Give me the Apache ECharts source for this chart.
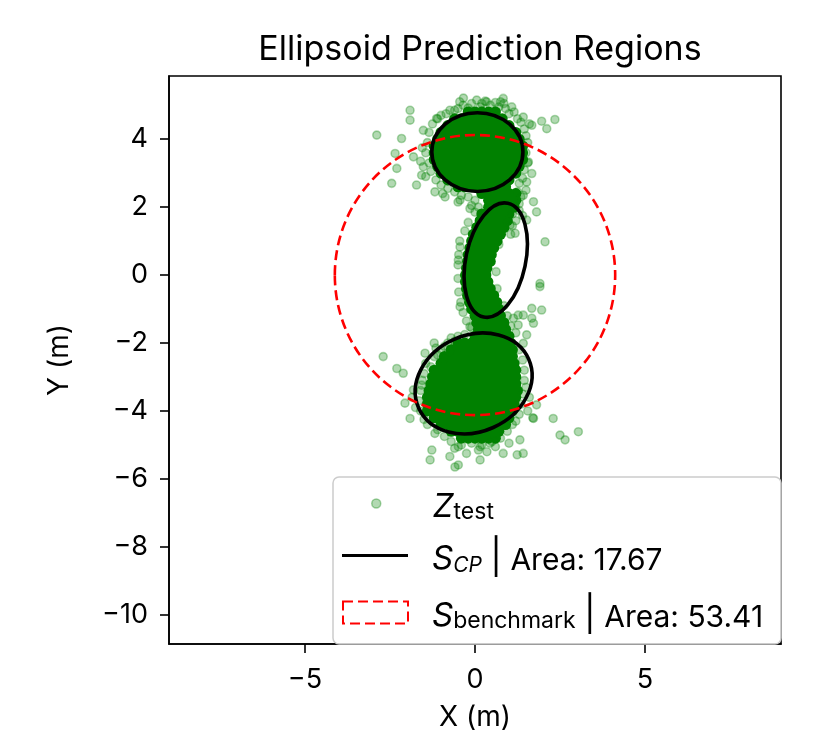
<!DOCTYPE html>
<html><head><meta charset="utf-8">
<script src="https://cdn.jsdelivr.net/npm/echarts@6/dist/echarts.min.js"></script>
<style>html,body{margin:0;padding:0;background:#fff}#c{width:820px;height:750px}</style>
</head><body><div id="c"></div>
<script>
const FONT = 'Inter';
const titleText = 'Ellipsoid Prediction Regions';
const xName = 'X (m)';
const yName = 'Y (m)';
const xRange = [-9, 9];
const yRange = [-10.86, 5.86];
const xTicks = [-5, 0, 5];
const yTicks = [-10, -8, -6, -4, -2, 0, 2, 4];
const areaCP = 17.67;
const areaBench = 53.41;

// black ellipses (S_CP): centre, semi-axes, rotation (deg, counter-clockwise)
const ellCx = [0.07, 0.61, -0.04];
const ellCy = [3.62, 0.44, -3.19];
const ellRx = [1.34, 1.71, 1.77];
const ellRy = [1.16, 0.88, 1.42];
const ellAngle = [0, 78, 24];
// red dashed benchmark circle
const benchCx = 0;
const benchCy = 0;
const benchR = 4.123;

// dense (saturated) core of Z_test, rows: [y, [x values]]
const coreTopRows = [
  [4.8, [-0.2, 0, 0.2, 0.4, 0.6]],
  [4.6, [-0.6, -0.4, -0.2, 0, 0.2, 0.4, 0.6, 0.8]],
  [4.4, [-0.8, -0.6, -0.4, -0.2, 0, 0.2, 0.4, 0.6, 0.8, 1.0]],
  [4.2, [-1.0, -0.8, -0.6, -0.4, -0.2, 0, 0.2, 0.4, 0.6, 0.8, 1.0, 1.2]],
  [4.0, [-1.1, -0.9, -0.7, -0.5, -0.3, -0.1, 0.1, 0.3, 0.5, 0.7, 0.9, 1.1, 1.3]],
  [3.8, [-1.2, -1.0, -0.8, -0.6, -0.4, -0.2, 0, 0.2, 0.4, 0.6, 0.8, 1.0, 1.2, 1.4]],
  [3.6, [-1.2, -1.0, -0.8, -0.6, -0.4, -0.2, 0, 0.2, 0.4, 0.6, 0.8, 1.0, 1.2, 1.4]],
  [3.4, [-1.2, -1.0, -0.8, -0.6, -0.4, -0.2, 0, 0.2, 0.4, 0.6, 0.8, 1.0, 1.2, 1.4]],
  [3.2, [-1.1, -0.9, -0.7, -0.5, -0.3, -0.1, 0.1, 0.3, 0.5, 0.7, 0.9, 1.1, 1.3]],
  [3.0, [-1.0, -0.8, -0.6, -0.4, -0.2, 0, 0.2, 0.4, 0.6, 0.8, 1.0, 1.2]],
  [2.8, [-0.8, -0.6, -0.4, -0.2, 0, 0.2, 0.4, 0.6, 0.8, 1.0]],
  [2.6, [-0.5, -0.3, -0.1, 0.1, 0.3, 0.5, 0.7, 0.9]],
  [2.4, [0.2, 0.4, 0.6, 0.8, 1.0, 1.2]],
  [2.2, [0.4, 0.6, 0.8, 1.0, 1.2]],
  [2.0, [0.4, 0.6, 0.8, 1.0, 1.15]]
];
const coreMidRows = [
  [1.8, [0.2, 0.4, 0.6, 0.8, 1.0]],
  [1.6, [0.15, 0.35, 0.55, 0.75, 0.95]],
  [1.4, [0.05, 0.25, 0.45, 0.65, 0.85]],
  [1.2, [-0.05, 0.15, 0.35, 0.55, 0.75]],
  [1.0, [-0.1, 0.1, 0.3, 0.5, 0.65]],
  [0.8, [-0.15, 0.05, 0.25, 0.45, 0.55]],
  [0.6, [-0.2, 0, 0.2, 0.4, 0.48]],
  [0.4, [-0.22, -0.02, 0.18, 0.38, 0.45]],
  [0.2, [-0.25, -0.05, 0.15, 0.35]],
  [0.0, [-0.28, -0.08, 0.12, 0.32]],
  [-0.2, [-0.28, -0.08, 0.12, 0.32, 0.38]],
  [-0.4, [-0.25, -0.05, 0.15, 0.35, 0.45]],
  [-0.6, [-0.22, -0.02, 0.18, 0.38, 0.55]],
  [-0.8, [-0.16, 0.04, 0.24, 0.44, 0.64]],
  [-1.0, [-0.1, 0.1, 0.3, 0.5, 0.7]],
  [-1.2, [0, 0.2, 0.4, 0.6, 0.75]],
  [-1.4, [0.05, 0.25, 0.45, 0.65, 0.85]],
  [-1.6, [0.1, 0.3, 0.5, 0.7, 0.9]]
];
const coreBotRows = [
  [-1.8, [0, 0.2, 0.4, 0.6, 0.8, 1.0]],
  [-2.0, [-0.5, -0.3, -0.1, 0.1, 0.3, 0.5, 0.7, 0.9, 1.05]],
  [-2.2, [-0.7, -0.5, -0.3, -0.1, 0.1, 0.3, 0.5, 0.7, 0.9, 1.1]],
  [-2.4, [-0.9, -0.7, -0.5, -0.3, -0.1, 0.1, 0.3, 0.5, 0.7, 0.9, 1.1]],
  [-2.6, [-1.0, -0.8, -0.6, -0.4, -0.2, 0, 0.2, 0.4, 0.6, 0.8, 1.0, 1.15]],
  [-2.8, [-1.2, -1.0, -0.8, -0.6, -0.4, -0.2, 0, 0.2, 0.4, 0.6, 0.8, 1.0, 1.2]],
  [-3.0, [-1.25, -1.05, -0.85, -0.65, -0.45, -0.25, -0.05, 0.15, 0.35, 0.55, 0.75, 0.95, 1.15, 1.2]],
  [-3.2, [-1.3, -1.1, -0.9, -0.7, -0.5, -0.3, -0.1, 0.1, 0.3, 0.5, 0.7, 0.9, 1.1, 1.2]],
  [-3.4, [-1.35, -1.15, -0.95, -0.75, -0.55, -0.35, -0.15, 0.05, 0.25, 0.45, 0.65, 0.85, 1.05, 1.25]],
  [-3.6, [-1.4, -1.2, -1.0, -0.8, -0.6, -0.4, -0.2, 0, 0.2, 0.4, 0.6, 0.8, 1.0, 1.2]],
  [-3.8, [-1.4, -1.2, -1.0, -0.8, -0.6, -0.4, -0.2, 0, 0.2, 0.4, 0.6, 0.8, 1.0, 1.15]],
  [-4.0, [-1.4, -1.2, -1.0, -0.8, -0.6, -0.4, -0.2, 0, 0.2, 0.4, 0.6, 0.8, 1.0, 1.1]],
  [-4.2, [-1.2, -1.0, -0.8, -0.6, -0.4, -0.2, 0, 0.2, 0.4, 0.6, 0.8, 1.0]],
  [-4.4, [-1.0, -0.8, -0.6, -0.4, -0.2, 0, 0.2, 0.4, 0.6, 0.8, 0.9]],
  [-4.6, [-0.7, -0.5, -0.3, -0.1, 0.1, 0.3, 0.5, 0.7]],
  [-4.8, [-0.4, -0.2, 0, 0.2, 0.4, 0.6]]
];
// sparse / fringe Z_test points (semi-transparent)
const sparseTop = [
  [-2.89,4.12],[-1.91,4.85],[-1.91,4.56],[-2.16,4.02],[-1.52,4.26],[-2.35,3.58],[-2.45,2.70],[-1.72,2.65],
  [-2.30,3.14],[-1.81,3.48],[-1.52,3.19],[-1.57,2.94],[-0.34,5.21],[0.34,5.10],[0.83,5.20],[1.08,4.95],
  [1.67,4.41],[1.96,4.53],[2.35,4.58],[2.11,4.31],[1.67,2.99],[1.52,2.74],[-0.74,4.85],[-1.13,4.61],
  [-1.18,2.45],[-0.88,2.30],[-0.44,2.21],[-0.15,1.96],[1.72,2.16],[1.42,2.35],[1.57,3.33],
  [-0.6,4.85],[-0.35,5.0],[-0.1,5.05],[0.15,4.95],[0.45,5.0],[0.7,4.95],[0.9,4.9],[1.0,4.75],
  [-0.85,4.75],[-0.5,4.9],[0.3,5.12],[0.6,5.08],[-0.2,4.92],[0.05,5.15],[0.85,5.05],
  [1.35,4.5],[1.45,4.3],[1.5,4.1],[1.55,3.9],[1.5,3.6],[1.55,3.3],[1.45,3.1],[1.4,2.85],[1.3,2.7],
  [1.6,4.45],[1.42,4.65],[1.25,4.6],[-1.35,4.2],[-1.4,3.9],[-1.45,3.6],[-1.35,3.3],[-1.3,3.05],
  [-1.15,2.8],[-1.0,2.65],[-1.25,4.45],[-1.1,4.6],[-1.55,3.75],[-1.6,3.35],[-0.8,2.55],[-0.6,2.45],
  [-0.4,2.35],[-0.2,2.3],[0.0,2.2],[-0.1,2.05],[1.25,2.45],[1.35,2.3],[1.3,2.1],[-0.5,2.15],
  [-0.45,5.1],[0.2,5.05],[0.75,5.1],[1.15,4.8],[-1.0,4.7],[1.5,2.5],[-1.45,2.9],[-0.95,2.4]
];
const sparseMid = [
  [0.1,2.0],[0.0,1.85],[1.3,1.9],[1.4,1.75],[1.2,1.6],[1.1,1.45],[-0.45,1.0],[-0.48,0.6],[-0.5,0.3],
  [-0.5,-0.1],[-0.48,-0.5],[-0.42,-0.8],[-0.35,-1.1],[-0.25,-1.35],[-0.3,1.3],[-0.2,1.55],[0.7,0.9],
  [0.62,0.1],[0.65,-0.4],[0.85,-0.9],[0.95,-1.2],[1.05,1.2],[0.95,1.6],[1.1,1.8],[1.03,1.47],[1.18,1.23],
  [1.52,1.62],[1.81,1.86],[2.06,0.98],[1.91,-0.34],[1.67,-0.98],[1.96,-1.03],[-0.49,0.44],[-0.44,0.83],
  [-0.44,-0.93],[-0.15,-1.52],[1.13,-1.27],[1.42,-1.18],[1.27,-1.47],[1.67,-1.27],[1.91,-0.25]
];
const sparseBot = [
  [-2.70,-2.40],[-2.30,-2.75],[-2.11,-2.89],[-1.47,-2.30],[-1.91,-4.22],[-2.06,-3.77],[-1.18,-4.66],
  [-1.27,-5.15],[-0.74,-5.34],[-0.49,-5.59],[-0.49,-5.05],[0.15,-5.05],[0.44,-4.95],[0.83,-5.25],
  [1.42,-5.25],[1.32,-4.85],[1.72,-4.22],[1.81,-3.82],[2.30,-4.22],[2.50,-4.71],[2.65,-4.85],[3.04,-4.61],
  [1.42,-2.01],[1.52,-1.76],[1.72,-1.42],[1.27,-1.18],[-1.57,-3.24],[-1.81,-3.38],[-1.32,-5.44],
  [-0.59,-5.65],[0.15,-5.44],[1.24,-5.29],
  [-0.1,-1.55],[1.05,-1.5],[1.2,-1.7],[-0.3,-1.75],[-0.8,-2.0],[-1.0,-2.2],[-1.2,-2.4],[-0.95,-2.5],
  [-1.3,-2.7],[-1.15,-2.15],[-0.7,-1.85],[-1.45,-2.6],[-1.5,-2.9],[-1.55,-3.1],[-1.6,-3.4],[-1.65,-3.7],
  [-1.6,-4.0],[-1.5,-4.25],[-1.4,-4.4],[-1.1,-4.55],[-0.9,-4.75],[-0.7,-4.9],[-0.4,-5.0],[-0.1,-4.95],
  [0.2,-5.0],[0.5,-4.9],[0.75,-4.8],[0.95,-4.6],[1.1,-4.4],[-0.6,-5.1],[0.1,-5.15],[1.3,-2.2],[1.4,-2.5],
  [1.45,-2.8],[1.45,-3.1],[1.4,-3.5],[1.35,-3.8],[1.3,-4.1],[1.2,-4.3],[1.5,-3.3],[1.6,-3.6],[1.55,-4.0],[1.7,-4.2],
  [-0.6,-1.95],[-0.9,-2.1],[-1.1,-2.35],[-0.75,-2.25],[-1.2,-2.0],[-0.5,-1.8],[-1.75,-3.9],[-1.85,-3.6],
  [-0.25,-5.25],[0.35,-5.2],[0.6,-5.05],[1.0,-4.95]
];

// ---- build options ----
function rowsToPoints(rows) {
  const out = [];
  rows.forEach(r => r[1].forEach(x => out.push([x, r[0]])));
  return out;
}
const corePts = rowsToPoints(coreTopRows).concat(rowsToPoints(coreMidRows), rowsToPoints(coreBotRows));
const sparsePts = sparseTop.concat(sparseMid, sparseBot);
const ellData = ellCx.map((c, i) => [c, ellCy[i], ellRx[i], ellRy[i], ellAngle[i]]);
const benchData = [[benchCx, benchCy, benchR, benchR, 0]];

const fmt = v => (v < 0 ? '\u2212' + Math.abs(v) : String(v));

function ellipseRenderer(stroke, lw, dash) {
  return function (params, api) {
    const c = api.coord([api.value(0), api.value(1)]);
    const s = api.size([api.value(2), api.value(3)]);
    return {
      type: 'ellipse', x: c[0], y: c[1], rotation: api.value(4) * Math.PI / 180,
      shape: { cx: 0, cy: 0, rx: s[0], ry: s[1] },
      style: { fill: 'none', stroke: stroke, lineWidth: lw, lineDash: dash }
    };
  };
}

const GREEN_A = 'rgba(0,128,0,0.3)';
const LFS = 30;
const legendRich = {
  gap1: { width: 47, fontSize: LFS, fontFamily: FONT, verticalAlign: 'bottom', lineHeight: 36 },
  gap: { width: 19, fontSize: LFS, fontFamily: FONT, verticalAlign: 'bottom', lineHeight: 36 },
  it: { fontStyle: 'italic', fontSize: 33, fontFamily: FONT, verticalAlign: 'bottom', lineHeight: 41, color: '#000' },
  sub: { fontSize: 23, fontFamily: FONT, verticalAlign: 'bottom', lineHeight: 27, color: '#000' },
  subit: { fontSize: 21, fontStyle: 'italic', fontFamily: FONT, verticalAlign: 'bottom', lineHeight: 26, color: '#000' },
  bar: { fontSize: 35, fontFamily: FONT, verticalAlign: 'bottom', lineHeight: 41, color: '#000' },
  t: { fontSize: LFS, fontFamily: FONT, verticalAlign: 'bottom', lineHeight: 36, color: '#000' }
};
const legendLabels = {
  Ztest: '{gap1|}{it|Z}{sub|test}',
  SCP: '{gap|}{it|S}{subit|CP}{t| }{bar||}{t| Area: ' + areaCP.toFixed(2) + '}',
  Sbench: '{gap|}{it|S}{sub|benchmark}{t| }{bar||}{t| Area: ' + areaBench.toFixed(2) + '}'
};
function mkLegend(name, left, top, iconW, iconH, icon, itemStyle) {
  return {
    data: [{ name: name, icon: icon, itemStyle: itemStyle }],
    left: left, top: top, padding: 0, itemWidth: iconW, itemHeight: iconH,
    selectedMode: false, z: 120,
    formatter: n => legendLabels[n],
    textStyle: { fontFamily: FONT, fontSize: LFS, color: '#000', rich: legendRich }
  };
}

const option = {
  animation: false,
  backgroundColor: '#fff',
  title: {
    text: titleText, left: 475, top: 28, textAlign: 'center',
    textStyle: { fontFamily: FONT, fontSize: 34, fontWeight: 'normal', color: '#000' }
  },
  grid: { left: 169, top: 76, width: 612, height: 568, show: true, borderColor: '#000', borderWidth: 1.6, backgroundColor: 'transparent' },
  xAxis: {
    type: 'value', min: xRange[0], max: xRange[1],
    splitLine: { show: false },
    axisLine: { show: true, onZero: false, lineStyle: { color: '#000', width: 1.6 } },
    axisTick: { show: true, length: 9, customValues: xTicks, lineStyle: { color: '#000', width: 1.6 } },
    axisLabel: { customValues: xTicks, formatter: fmt, fontFamily: FONT, fontSize: 27, color: '#000', margin: 22 },
    name: xName, nameLocation: 'middle', nameGap: 60,
    nameTextStyle: { fontFamily: FONT, fontSize: 28, color: '#000' }
  },
  yAxis: {
    type: 'value', min: yRange[0], max: yRange[1],
    splitLine: { show: false },
    axisLine: { show: true, onZero: false, lineStyle: { color: '#000', width: 1.6 } },
    axisTick: { show: true, length: 9, customValues: yTicks, lineStyle: { color: '#000', width: 1.6 } },
    axisLabel: { customValues: yTicks, formatter: fmt, fontFamily: FONT, fontSize: 27, color: '#000', margin: 21 },
    name: yName, nameLocation: 'middle', nameGap: 95,
    nameTextStyle: { fontFamily: FONT, fontSize: 28, color: '#000' }
  },
  legend: [
    mkLegend('Ztest', 371, 491, 9, 9, 'circle', { color: GREEN_A, borderColor: 'rgba(0,128,0,0.35)', borderWidth: 1.5 }),
    mkLegend('SCP', 342, 541, 66, 3, 'rect', { color: '#000', borderWidth: 0 }),
    mkLegend('Sbench', 342, 598, 65, 22, 'rect', { color: 'rgba(0,0,0,0)', borderColor: '#ff0000', borderWidth: 2, borderType: [10, 5] })
  ],
  graphic: [{
    type: 'rect', z: 100, silent: true,
    shape: { x: 333, y: 477, width: 448, height: 167, r: 6 },
    style: { fill: 'rgba(255,255,255,0.8)', stroke: '#cccccc', lineWidth: 1.5 }
  }],
  series: [
    {
      name: 'Ztest', type: 'scatter', data: corePts, symbolSize: 11,
      itemStyle: { color: '#008000', opacity: 1 }, z: 2, silent: true
    },
    {
      name: 'Ztest', type: 'scatter', data: sparsePts, symbolSize: 8,
      itemStyle: { color: GREEN_A, borderColor: GREEN_A, borderWidth: 1.6, opacity: 1 }, z: 3, silent: true
    },
    {
      name: 'SCP', type: 'custom', data: ellData, renderItem: ellipseRenderer('#000', 3.6, null),
      encode: { x: 0, y: 1 }, clip: true, z: 4, silent: true
    },
    {
      name: 'Sbench', type: 'custom', data: benchData, renderItem: ellipseRenderer('#ff0000', 2.6, [10, 5]),
      encode: { x: 0, y: 1 }, clip: true, z: 5, silent: true
    }
  ]
};
const chart = echarts.init(document.getElementById('c'), null, { renderer: 'canvas' });
chart.setOption(option);
</script></body></html>
